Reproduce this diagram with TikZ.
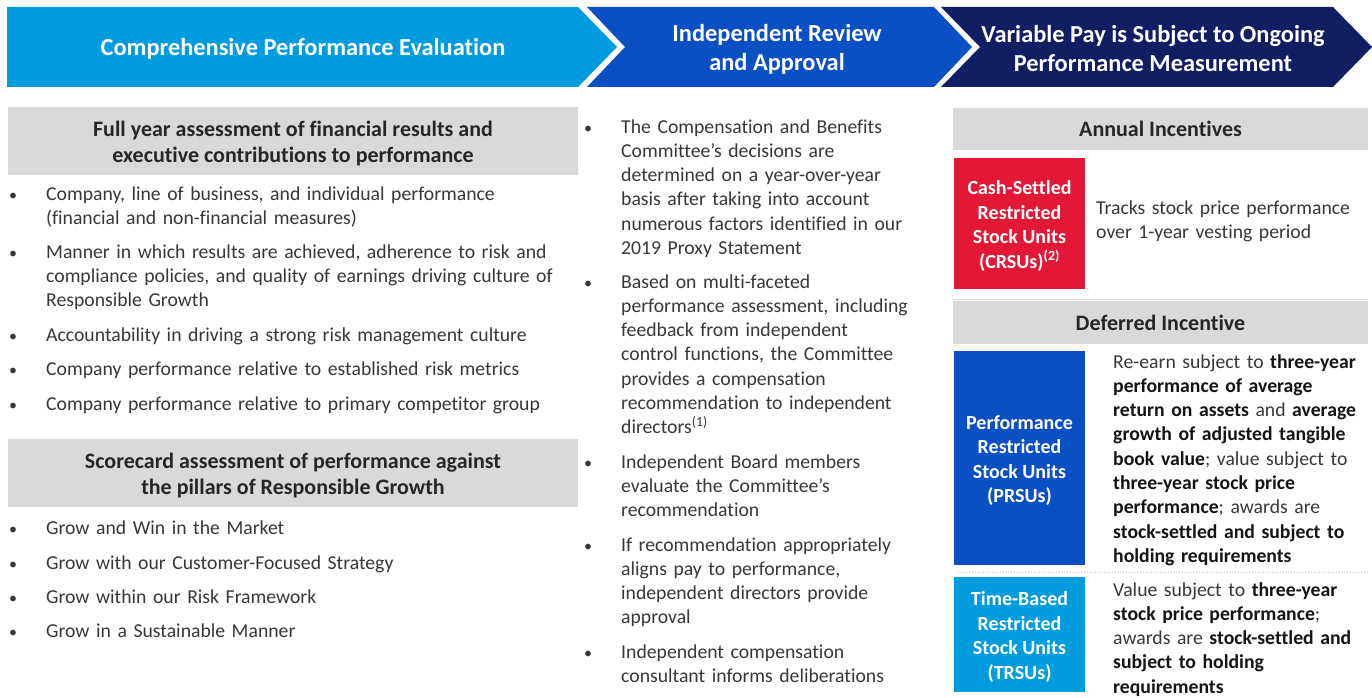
\documentclass[tikz,border=0pt]{standalone}
\usepackage{fontspec}
\setmainfont{Carlito}[Ligatures=NoCommon]
\definecolor{lblue}{RGB}{0,156,222}
\definecolor{mblue}{RGB}{10,80,196}
\definecolor{navy}{RGB}{16,30,100}
\definecolor{cred}{RGB}{226,24,54}
\definecolor{hgray}{RGB}{217,217,217}
\definecolor{htxt}{RGB}{38,38,38}
\definecolor{txt}{RGB}{55,55,55}
\definecolor{btxt}{RGB}{20,20,20}
\definecolor{sepgray}{RGB}{200,200,200}
\newcommand{\hb}[1]{{\bfseries\color{btxt}#1}}
\tikzset{
  body/.style={anchor=base west, inner sep=0pt, align=left, text width=#1,
    font=\fontsize{19.7}{24.3}\selectfont, text=txt},
  bul/.style={anchor=base, inner sep=0pt, font=\fontsize{16}{24.3}\selectfont, text=txt},
  chevtext/.style={text=white, font=\bfseries\fontsize{24.4}{29}\selectfont, align=center, inner sep=0pt},
  graybox/.style={fill=hgray, inner sep=0pt},
  grayhead/.style={inner sep=0pt, align=center,
    font=\bfseries\fontsize{22}{26.3}\selectfont, text=htxt},
  unitbox/.style={fill=#1, inner sep=0pt, minimum width=131pt},
  unitlabel/.style={inner sep=0pt, align=center, text=white,
    font=\bfseries\fontsize{20}{24.4}\selectfont},
}
\begin{document}
\begin{tikzpicture}[x=1pt,y=-1pt]
\useasboundingbox (0,0) rectangle (1372,698);
% chevrons
\fill[lblue] (7,7) -- (578,7) -- (617,47) -- (578,87) -- (7,87) -- cycle;
\fill[mblue] (587,7) -- (934,7) -- (972,47) -- (934,87) -- (587,87) -- (625,47) -- cycle;
\fill[navy] (941,7) -- (1333,7) -- (1372,47) -- (1333,87) -- (941,87) -- (980,47) -- cycle;
\node[chevtext] (h1) at (303,49) {Comprehensive Performance Evaluation};
\node[chevtext] (h2) at (777,49) {Independent Review\\and Approval};
\node[chevtext] (h3) at (1153,49) {Variable Pay is Subject to Ongoing\\Performance Measurement};
% left column
\node[graybox, minimum width=570pt, minimum height=68pt] (g1) at (293,141) {};
\node[grayhead] (g1t) at ([yshift=-2.5pt]g1.center)
  {Full year assessment of financial results and\\executive contributions to performance};
\node[bul] (b1) at (13,200) {\textbullet};
\node[body=540pt] (l1) at (46,200) {Company, line of business, and individual performance\\(financial and non-financial measures)};
\node[bul] (b2) at (13,258) {\textbullet};
\node[body=540pt] (l2) at (46,258) {Manner in which results are achieved, adherence to risk and\\compliance policies, and quality of earnings driving culture of\\Responsible Growth};
\node[bul] (b3) at (13,341) {\textbullet};
\node[body=540pt] (l3) at (46,341) {Accountability in driving a strong risk management culture};
\node[bul] (b4) at (13,375) {\textbullet};
\node[body=540pt] (l4) at (46,375) {Company performance relative to established risk metrics};
\node[bul] (b5) at (13,410) {\textbullet};
\node[body=540pt] (l5) at (46,410) {Company performance relative to primary competitor group};
\node[graybox, minimum width=570pt, minimum height=68pt] (g2) at (293,473) {};
\node[grayhead] (g2t) at ([yshift=-2.5pt]g2.center)
  {Scorecard assessment of performance against\\the pillars of Responsible Growth};
\node[bul] (b6) at (13,534) {\textbullet};
\node[body=540pt] (l6) at (46,534) {Grow and Win in the Market};
\node[bul] (b7) at (13,569) {\textbullet};
\node[body=540pt] (l7) at (46,569) {Grow with our Customer-Focused Strategy};
\node[bul] (b8) at (13,603) {\textbullet};
\node[body=540pt] (l8) at (46,603) {Grow within our Risk Framework};
\node[bul] (b9) at (13,637) {\textbullet};
\node[body=540pt] (l9) at (46,637) {Grow in a Sustainable Manner};
% middle column
\node[bul] (m1b) at (588,133) {\textbullet};
\node[body=320pt] (m1) at (621,133) {The Compensation and Benefits\\Committee’s decisions are\\determined on a year-over-year\\basis after taking into account\\numerous factors identified in our\\2019 Proxy Statement};
\node[bul] (m2b) at (588,288) {\textbullet};
\node[body=320pt] (m2) at (621,288) {Based on multi-faceted\\performance assessment, including\\feedback from independent\\control functions, the Committee\\provides a compensation\\recommendation to independent\\directors\textsuperscript{(1)}};
\node[bul] (m3b) at (588,468) {\textbullet};
\node[body=320pt] (m3) at (621,468) {Independent Board members\\evaluate the Committee’s\\recommendation};
\node[bul] (m4b) at (588,551) {\textbullet};
\node[body=320pt] (m4) at (621,551) {If recommendation appropriately\\aligns pay to performance,\\independent directors provide\\approval};
\node[bul] (m5b) at (588,658) {\textbullet};
\node[body=320pt] (m5) at (621,658) {Independent compensation\\consultant informs deliberations};
% right column
\node[graybox, minimum width=415pt, minimum height=42pt] (ai) at (1160.5,129) {};
\node[grayhead] (ait) at (ai.center) {Annual Incentives};
\node[unitbox=cred, minimum height=131pt] (crsu) at (1019.5,223.5) {};
\node[unitlabel] (crsul) at ([yshift=-2.5pt]crsu.center)
  {Cash-Settled\\Restricted\\Stock Units\\(CRSUs)\textsuperscript{(2)}};
\node[body=270pt] (crsut) at (1096,214) {Tracks stock price performance\\over 1-year vesting period};
\draw[sepgray!60, line width=0.8pt] (953,299) coordinate (s1a) -- (1368,299) coordinate (s1b);
\node[graybox, minimum width=415pt, minimum height=43pt] (di) at (1160.5,322.5) {};
\node[grayhead] (dit) at (di.center) {Deferred Incentive};
\node[unitbox=mblue, minimum height=214pt] (prsu) at (1019.5,458) {};
\node[unitlabel] (prsul) at ([yshift=-2.5pt]prsu.center)
  {Performance\\Restricted\\Stock Units\\(PRSUs)};
\node[body=260pt] (prsut) at (1113,368) {Re-earn subject to \hb{three-year}\\
  \hb{performance of average}\\
  \hb{return on assets} and \hb{average}\\
  \hb{growth of adjusted tangible}\\
  \hb{book value}; value subject to\\
  \hb{three-year stock price}\\
  \hb{performance}; awards are\\
  \hb{stock-settled and subject to}\\
  \hb{holding requirements}};
\draw[sepgray, line width=0.8pt, dotted] (958,572) coordinate (s2a) -- (1368,572) coordinate (s2b);
\node[unitbox=lblue, minimum height=115pt] (trsu) at (1019.5,634.5) {};
\node[unitlabel] (trsul) at ([yshift=-2.5pt]trsu.center)
  {Time-Based\\Restricted\\Stock Units\\(TRSUs)};
\node[body=260pt] (trsut) at (1113,596) {Value subject to \hb{three-year}\\
  \hb{stock price performance};\\
  awards are \hb{stock-settled and}\\
  \hb{subject to holding}\\
  \hb{requirements}};
\end{tikzpicture}
\end{document}
